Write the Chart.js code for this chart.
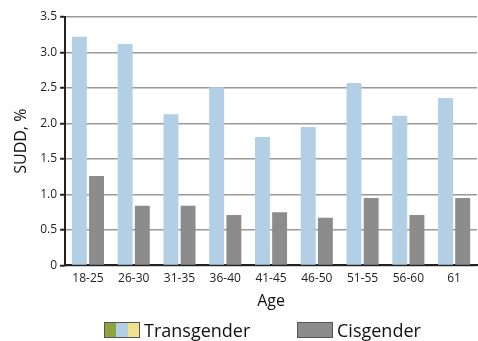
<!DOCTYPE html>
<html><head><meta charset="utf-8">
<script src="https://cdn.jsdelivr.net/npm/chart.js@4/dist/chart.umd.min.js"></script>
<style>
html,body{margin:0;padding:0;background:#fff;}
#wrap{position:relative;width:478px;height:341px;}
#legend{position:absolute;left:0;top:318px;width:478px;height:20px;font-family:"Open Sans",sans-serif;font-size:18px;color:#111;}
.item{position:absolute;top:0;display:flex;align-items:center;}
.sw{width:36px;height:16px;border:1px solid #555;box-sizing:border-box;display:flex;margin-right:4px;}
.sw span{flex:1;}
</style></head>
<body><div id="wrap"><canvas id="c" width="478" height="341"></canvas>
<div id="legend">
 <div class="item" style="left:104px;top:0"><div class="sw"><span style="background:#8fa33f"></span><span style="background:#b2cfe6"></span><span style="background:#f1e18c"></span></div><span>Transgender</span></div>
 <div class="item" style="left:297px;top:0"><div class="sw" style="background:#8c8c8c"></div><span>Cisgender</span></div>
</div></div>
<script>
const categories = ["18-25","26-30","31-35","36-40","41-45","46-50","51-55","56-60","61"];
const transgender = [3.22,3.12,2.13,2.51,1.81,1.95,2.57,2.11,2.36];
const cisgender = [1.26,0.84,0.84,0.71,0.75,0.67,0.95,0.71,0.95];
const yTicks = [0,0.5,1.0,1.5,2.0,2.5,3.0,3.5];

new Chart(document.getElementById('c'), {
  type: 'bar',
  data: {
    labels: categories,
    datasets: [
      {label:'Transgender', data: transgender, backgroundColor:'#b2cfe6', borderWidth:0},
      {label:'Cisgender', data: cisgender, backgroundColor:'#8c8c8c', borderWidth:0}
    ]
  },
  options: {
    responsive:false, animation:false,
    layout:{padding:{top:17,right:1,bottom:30,left:12}},
    plugins:{legend:{display:false}, tooltip:{enabled:false}},
    datasets:{bar:{categoryPercentage:0.75, barPercentage:0.87}},
    scales:{
      x:{
        grid:{display:false, drawTicks:false},
        border:{color:'#222', width:2},
        ticks:{color:'#222', font:{family:'Open Sans', size:12}, padding:6, maxRotation:0},
        title:{display:true, text:'Age', color:'#111', font:{family:'Open Sans', size:16}, padding:{top:0,bottom:0}}
      },
      y:{
        min:0, max:3.5,
        afterBuildTicks: s => { s.ticks = yTicks.map(v => ({value:v})); },
        grid:{color:'#9a9a9a', lineWidth:1.5, tickColor:'#222', tickLength:5, tickWidth:2},
        border:{color:'#222', width:2},
        ticks:{color:'#222', font:{family:'Open Sans', size:12}, padding:3,
          callback: v => v === 0 ? '0' : Number(v).toFixed(1)},
        title:{display:true, text:'SUDD, %', color:'#111', font:{family:'Open Sans', size:16}, padding:{top:0,bottom:6}}
      }
    }
  }
});
</script></body></html>
